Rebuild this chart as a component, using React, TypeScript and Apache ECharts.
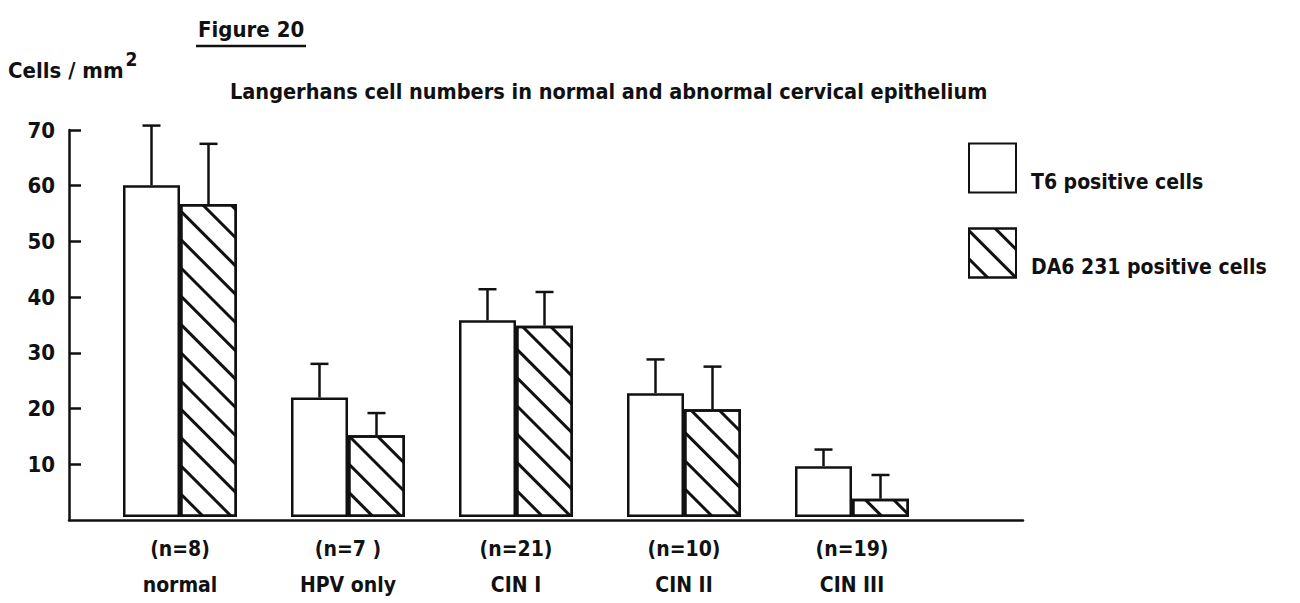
import React, { useEffect, useRef } from "react";
import * as echarts from "echarts";

const categories = ["normal", "HPV only", "CIN I", "CIN II", "CIN III"];
const nLabels = ["(n=8)", "(n=7 )", "(n=21)", "(n=10)", "(n=19)"];
const t6Values = [60, 21.6, 35.6, 22.4, 9.2];
const t6ErrTop = [70.8, 27.7, 41.2, 28.5, 12.2];
const da6Values = [56.6, 14.8, 34.6, 19.5, 3.3];
const da6ErrTop = [67.5, 18.8, 40.7, 27.2, 7.6];
const yTicks = [0, 10, 20, 30, 40, 50, 60, 70];

const FONT = "'DejaVu Sans Condensed', 'Liberation Sans Narrow', sans-serif";
const INK = "#111";
const BAR_W = 57;

export default function App() {
  const ref = useRef<HTMLDivElement>(null);
  useEffect(() => {
    if (!ref.current) return;
    const chart = echarts.init(ref.current, null, { renderer: "svg" });
    const errData: number[][] = [];
    categories.forEach((_, i) => {
      errData.push([i, t6ErrTop[i], t6Values[i], -1]);
      errData.push([i, da6ErrTop[i], da6Values[i], 1]);
    });
    const option: any = {
      animation: false,
      backgroundColor: "#fff",
      textStyle: { fontFamily: FONT, color: INK },
      title: [
        {
          text: "Figure 20",
          left: 193,
          top: 13,
          textStyle: { fontFamily: FONT, fontSize: 22, fontWeight: "bold", color: INK },
        },
        {
          text: "Langerhans cell numbers in normal and abnormal cervical epithelium",
          left: 225,
          top: 75,
          textStyle: { fontFamily: FONT, fontSize: 21.5, fontWeight: "bold", color: INK },
        },
      ],
      graphic: [
        { type: "line", shape: { x1: 196, y1: 46, x2: 306, y2: 46 }, style: { stroke: INK, lineWidth: 2.5 } },
      ],
      legend: {
        orient: "vertical",
        left: 963,
        top: 135,
        itemWidth: 47,
        itemHeight: 49,
        itemGap: 29,
        icon: "rect",
        data: ["T6 positive cells", "DA6 231 positive cells"],
        formatter: (name: string) => "\n" + name,
        textStyle: { fontFamily: FONT, fontSize: 21, fontWeight: "bold", color: INK, lineHeight: 28, padding: [0, 0, 0, 10] },
      },
      grid: [
        { left: 69, top: 130, width: 954, height: 390 },
        { left: 96, top: 130, width: 840, height: 390 },
      ],
      xAxis: [
        {
          gridIndex: 0,
          type: "value",
          min: 0,
          max: 1,
          axisLine: { show: true, lineStyle: { color: INK, width: 2.5 } },
          axisTick: { show: false },
          axisLabel: { show: false },
          splitLine: { show: false },
        },
        {
          gridIndex: 1,
          type: "category",
          data: categories,
          axisLine: { show: false },
          axisTick: { show: false },
          axisLabel: {
            margin: 14,
            fontFamily: FONT,
            fontSize: 21,
            fontWeight: "bold",
            color: INK,
            lineHeight: 36,
            formatter: (v: string, i: number) => nLabels[i] + "\n" + v,
          },
        },
      ],
      yAxis: [
        {
          gridIndex: 0,
          type: "value",
          min: 0,
          max: 70,
          interval: 10,
          name: "Cells / mm{sup|2}",
          nameLocation: "end",
          nameGap: 49,
          nameTextStyle: {
            fontFamily: FONT,
            fontSize: 22,
            fontWeight: "bold",
            color: INK,
            align: "left",
            padding: [0, 0, 0, -61],
            rich: {
              sup: { fontFamily: FONT, fontSize: 19, fontWeight: "bold", color: INK, verticalAlign: "bottom", lineHeight: 19, padding: [0, 0, 13, 2] },
            },
          },
          axisLine: { show: true, lineStyle: { color: INK, width: 2.5 } },
          axisTick: { show: true, inside: true, length: 12, lineStyle: { color: INK, width: 2.5 } },
          axisLabel: {
            showMinLabel: false,
            margin: 14,
            fontFamily: FONT,
            fontSize: 22,
            fontWeight: "bold",
            color: INK,
            formatter: (v: number) => (yTicks.includes(v) && v !== 0 ? String(v) : ""),
          },
          splitLine: { show: false },
        },
        {
          gridIndex: 1,
          type: "value",
          min: 0,
          max: 70,
          interval: 10,
          show: false,
        },
      ],
      series: [
        {
          name: "T6 positive cells",
          type: "bar",
          xAxisIndex: 1,
          yAxisIndex: 1,
          barWidth: BAR_W,
          barGap: "0%",
          data: t6Values,
          itemStyle: { color: "#fff", borderColor: INK, borderWidth: 2.5 },
        },
        {
          name: "DA6 231 positive cells",
          type: "bar",
          xAxisIndex: 1,
          yAxisIndex: 1,
          barWidth: BAR_W,
          barGap: "0%",
          data: da6Values,
          itemStyle: {
            color: "#fff",
            borderColor: INK,
            borderWidth: 2.5,
            decal: {
              symbol: "rect",
              color: INK,
              backgroundColor: "#fff",
              dashArrayX: [1, 0],
              dashArrayY: [3, 17],
              rotation: Math.PI / 4,
            },
          },
        },
        {
          type: "custom",
          xAxisIndex: 1,
          yAxisIndex: 1,
          z: 5,
          data: errData,
          renderItem: (params: any, api: any) => {
            const cat = api.value(0);
            const top = api.value(1);
            const base = api.value(2);
            const side = api.value(3);
            const p1 = api.coord([cat, base]);
            const p2 = api.coord([cat, top]);
            const x = p1[0] + (side * BAR_W) / 2;
            const st = { stroke: INK, lineWidth: 2.5 };
            return {
              type: "group",
              children: [
                { type: "line", shape: { x1: x, y1: p1[1], x2: x, y2: p2[1] }, style: st },
                { type: "line", shape: { x1: x - 9, y1: p2[1], x2: x + 9, y2: p2[1] }, style: st },
              ],
            };
          },
        },
      ],
    };
    chart.setOption(option);
    return () => chart.dispose();
  }, []);
  return <div ref={ref} style={{ position: "fixed", left: 0, top: 0, width: 1300, height: 603 }} />;
}
